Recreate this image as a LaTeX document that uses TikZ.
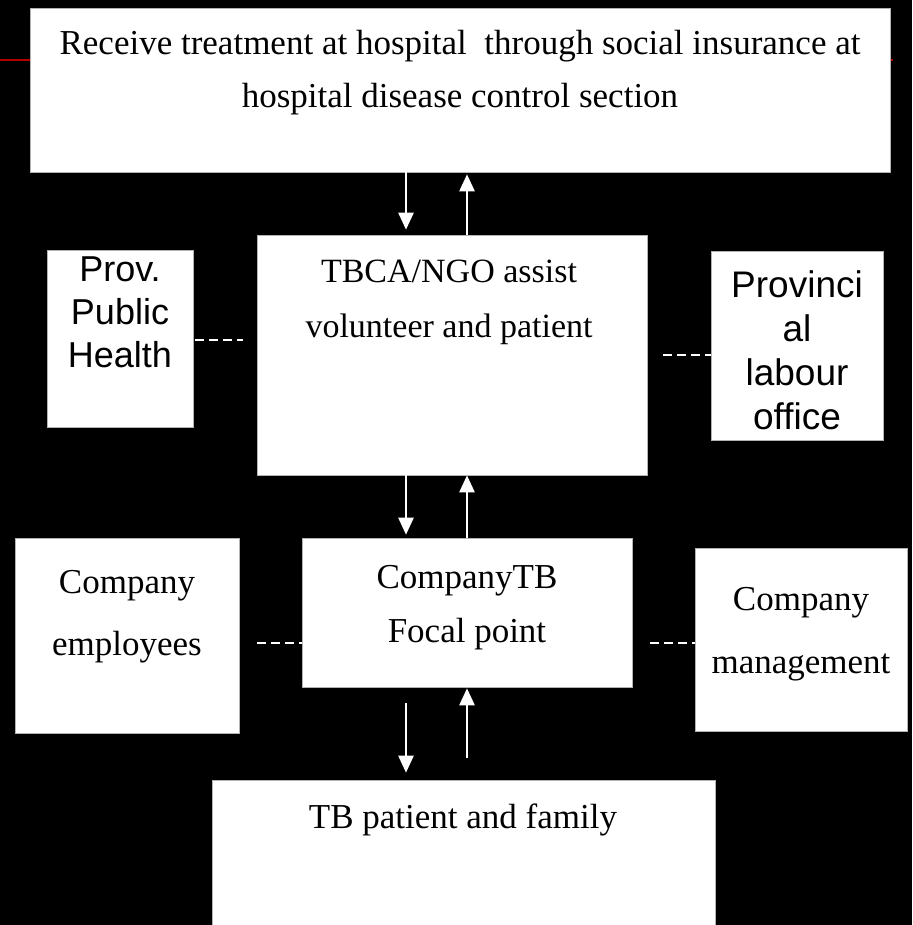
\documentclass[tikz,border=0pt]{standalone}
\usepackage{fontspec}
\setmainfont{Liberation Serif}
\newfontfamily\sansfam{Liberation Sans}
\usetikzlibrary{arrows.meta,calc}

\begin{document}
\begin{tikzpicture}[
  x=1pt, y=-1pt,
  box/.style={draw=black!30,line width=0.6pt,fill=white,inner sep=0pt},
  txt/.style={align=center,inner sep=0pt,anchor=base,font={\fontsize{35}{54}\selectfont}},
  stxt/.style={align=center,inner sep=0pt,anchor=base,font={\sansfam\fontsize{36}{43}\selectfont}},
  arr/.style={-{Triangle[length=17pt,width=15pt]},line width=2.5pt,white},
  link/.style={white,line width=2pt,dash pattern=on 9pt off 5pt}
]
\fill[black] (0,0) rectangle (912,925);
\useasboundingbox (0,0) rectangle (912,925);
\draw[red!70!black,line width=2pt] (0,60) -- (893,60);

% boxes
\node[box,minimum width=860pt,minimum height=164pt] (top) at (460,90) {};
\node[box,minimum width=390pt,minimum height=240pt] (tbca) at (452,355) {};
\node[box,minimum width=146pt,minimum height=177pt] (prov) at (120,338.5) {};
\node[box,minimum width=172pt,minimum height=189pt] (labour) at (797,345.5) {};
\node[box,minimum width=224pt,minimum height=195pt] (staff) at (127,635.5) {};
\node[box,minimum width=330pt,minimum height=149pt] (focal) at (467,612.5) {};
\node[box,minimum width=212pt,minimum height=183pt] (mgmt) at (801,639.5) {};
\node[box,minimum width=503pt,minimum height=146pt] (family) at (463.5,853) {};

% texts (base = last line)
\node[txt,font={\fontsize{35}{53}\selectfont}] (toptxt) at (460,108)
  {Receive treatment at hospital\ \ through social insurance at\\hospital disease control section};
\node[txt,font={\fontsize{34}{55}\selectfont}] (tbcatxt) at (449,337) {TBCA/NGO assist\\volunteer and patient};
\node[stxt] (provtxt) at (120,367) {Prov.\\Public\\Health};
\node[stxt,font={\sansfam\fontsize{37}{44}\selectfont}] (labourtxt) at (797,429) {Provinci\\al\\labour\\office};
\node[txt,font={\fontsize{35}{62}\selectfont}] (stafftxt) at (127,655) {Company\\employees};
\node[txt] (focaltxt) at (467,642) {CompanyTB\\Focal point};
\node[txt,font={\fontsize{35}{63}\selectfont}] (mgmttxt) at (801,673) {Company\\management};
\node[txt] (familytxt) at (463,828) {TB patient and family};

% arrows
\coordinate (dncol) at (406,0);
\coordinate (upcol) at (467,0);
\draw[arr,shorten >=5pt] (top.south -| dncol) -- (tbca.north -| dncol);
\draw[arr,shorten >=2pt] (tbca.north -| upcol) -- (top.south -| upcol);
\draw[arr,shorten >=3pt] (tbca.south -| dncol) -- (focal.north -| dncol);
\draw[arr] (focal.north -| upcol) -- (tbca.south -| upcol);
\draw[arr,shorten <=16pt,shorten >=7pt] (focal.south -| dncol) -- (family.north -| dncol);
\draw[arr,shorten <=22pt,shorten >=1pt] (family.north -| upcol) -- (focal.south -| upcol);

% dashed links
\coordinate (rowa) at (0,340);
\coordinate (rowb) at (0,355);
\coordinate (rowc) at (0,643);
\draw[link,shorten <=2pt,shorten >=14pt] (prov.east |- rowa) -- (tbca.west |- rowa);
\draw[link,shorten <=16pt] (tbca.east |- rowb) -- (labour.west |- rowb);
\draw[link,shorten <=18pt] (staff.east |- rowc) -- (focal.west |- rowc);
\draw[link,shorten <=18pt] (focal.east |- rowc) -- (mgmt.west |- rowc);
\end{tikzpicture}
\end{document}
